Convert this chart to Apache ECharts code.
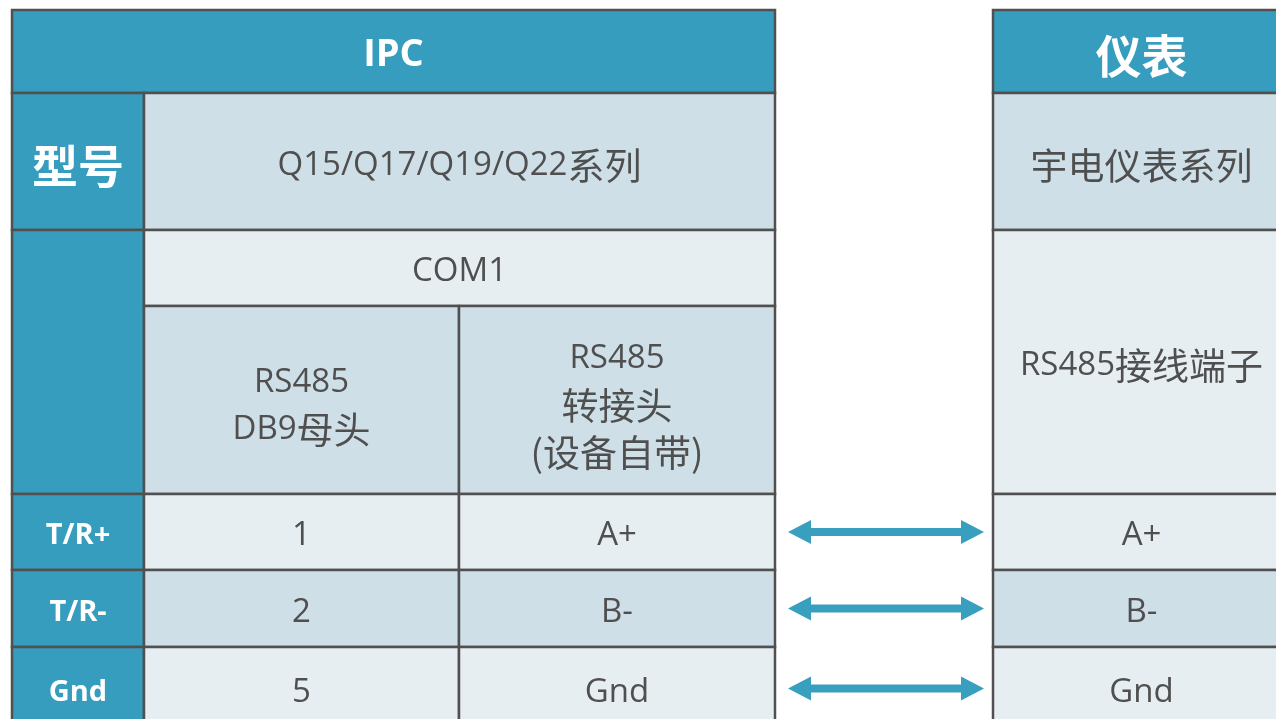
<!DOCTYPE html>
<html><head><meta charset="utf-8">
<script src="https://cdn.jsdelivr.net/npm/echarts@6/dist/echarts.min.js"></script>
<style>html,body{margin:0;padding:0;background:#fff}#c{width:1276px;height:719px}</style>
</head><body><div id="c"></div>
<script>
// ---- content (texts of the table) ----
const ipcHeader = 'IPC';
const meterHeader = '仪表';
const rowLabels = ['型号', '', 'T/R+', 'T/R-', 'Gnd'];
const ipcModel = 'Q15/Q17/Q19/Q22系列';
const ipcPort = 'COM1';
const connectorTypes = ['RS485\nDB9母头', 'RS485\n转接头\n(设备自带)'];
const db9Pins = ['1', '2', '5'];
const adapterPins = ['A+', 'B-', 'Gnd'];
const meterModel = '宇电仪表系列';
const meterTerminal = 'RS485接线端子';
const meterPins = ['A+', 'B-', 'Gnd'];

// ---- layout (grid edges on a pixel-aligned value scale) ----
const colEdges = [12, 144, 459, 775, 993, 1290];
const rowEdges = [10, 93, 230, 306, 494, 570, 647, 730];
const arrowSpan = [788, 984];

const TEAL = '#379dbe', LIGHT = '#cfdfe7', LIGHTER = '#e6eef2', TEXT = '#4f4f4f', BORDER = '#505050';
const LATIN = "'Open Sans','Noto Sans CJK SC',sans-serif";
const CJK = "'Noto Sans CJK SC',sans-serif";

const styles = {
  head: {fill: TEAL, color: '#fff', size: 38, cjk: 46, weight: 'bold'},
  big: {fill: TEAL, color: '#fff', size: 38, cjk: 46, weight: 'bold'},
  lab: {fill: TEAL, color: '#fff', size: 29, cjk: 29, weight: 'bold'},
  dark: {fill: LIGHT, color: TEXT, size: 33, cjk: 37, weight: 'normal'},
  light: {fill: LIGHTER, color: TEXT, size: 33, cjk: 37, weight: 'normal'}
};

// cells: [c0, c1, r0, r1, style, text]
const cells = [];
cells.push([0, 3, 0, 1, 'head', ipcHeader]);
cells.push([4, 5, 0, 1, 'big', meterHeader]);
cells.push([0, 1, 1, 2, 'big', rowLabels[0]]);
cells.push([0, 1, 2, 4, 'lab', rowLabels[1]]);
cells.push([1, 3, 1, 2, 'dark', ipcModel]);
cells.push([1, 3, 2, 3, 'light', ipcPort]);
cells.push([1, 2, 3, 4, 'dark', connectorTypes[0]]);
cells.push([2, 3, 3, 4, 'dark', connectorTypes[1]]);
cells.push([4, 5, 1, 2, 'dark', meterModel]);
cells.push([4, 5, 2, 4, 'light', meterTerminal]);
for (let i = 0; i < 3; i++) {
  const st = i === 1 ? 'dark' : 'light';
  cells.push([0, 1, 4 + i, 5 + i, 'lab', rowLabels[2 + i]]);
  cells.push([1, 2, 4 + i, 5 + i, st, db9Pins[i]]);
  cells.push([2, 3, 4 + i, 5 + i, st, adapterPins[i]]);
  cells.push([4, 5, 4 + i, 5 + i, st, meterPins[i]]);
}

const cellData = cells.map(c => [colEdges[c[0]], rowEdges[c[2]], colEdges[c[1]], rowEdges[c[3]]]);
const arrowData = [0, 1, 2].map(i => [arrowSpan[0], (rowEdges[4 + i] + rowEdges[5 + i]) / 2, arrowSpan[1]]);

// split text into latin / CJK runs for rich text
function toRich(text) {
  return text.split('\n').map(line => {
    const parts = line.match(/[\u4e00-\u9fff()（）]+|[^\u4e00-\u9fff()（）]+/g) || [''];
    return parts.map(p => (/[\u4e00-\u9fff()（）]/.test(p) ? '{c|' : '{l|') + p + '}').join('');
  }).join('\n');
}

function renderCell(params, api) {
  const c = cells[params.dataIndex];
  const s = styles[c[4]];
  const p0 = api.coord([api.value(0), api.value(1)]);
  const p1 = api.coord([api.value(2), api.value(3)]);
  const multi = c[5].indexOf('\n') >= 0;
  return {
    type: 'rect',
    shape: {x: p0[0], y: p0[1], width: p1[0] - p0[0], height: p1[1] - p0[1]},
    style: {fill: s.fill, stroke: BORDER, lineWidth: 2.5},
    textContent: {
      style: {
        text: c[5] ? toRich(c[5]) : '',
        align: 'center', verticalAlign: 'middle',
        rich: {
          l: {fill: s.color, fontSize: s.size, fontWeight: s.weight, fontFamily: LATIN, lineHeight: 47},
          c: {fill: s.color, fontSize: s.cjk, fontWeight: s.weight, fontFamily: CJK, lineHeight: 47}
        }
      }
    },
    textConfig: {position: 'inside', offset: [0, multi ? 6 : 4]}
  };
}

function renderArrow(params, api) {
  const a = api.coord([api.value(0), api.value(1)]);
  const b = api.coord([api.value(2), api.value(1)]);
  const y = a[1], x0 = a[0], x1 = b[0];
  const hl = 23, hh = 12, st = 4;
  return {
    type: 'polygon',
    shape: {points: [
      [x0, y], [x0 + hl, y - hh], [x0 + hl, y - st], [x1 - hl, y - st], [x1 - hl, y - hh],
      [x1, y], [x1 - hl, y + hh], [x1 - hl, y + st], [x0 + hl, y + st], [x0 + hl, y + hh]
    ]},
    style: {fill: '#389fbf'}
  };
}

const chart = echarts.init(document.getElementById('c'), null, {renderer: 'canvas'});
chart.setOption({
  backgroundColor: '#ffffff',
  animation: false,
  grid: {left: 0, right: 0, top: 0, bottom: 0},
  xAxis: {type: 'value', min: 0, max: 1276, show: false},
  yAxis: {type: 'value', min: 0, max: 719, inverse: true, show: false},
  series: [
    {type: 'custom', renderItem: renderCell, data: cellData, clip: false, silent: true},
    {type: 'custom', renderItem: renderArrow, data: arrowData, clip: false, silent: true}
  ]
});
</script>
</body></html>
